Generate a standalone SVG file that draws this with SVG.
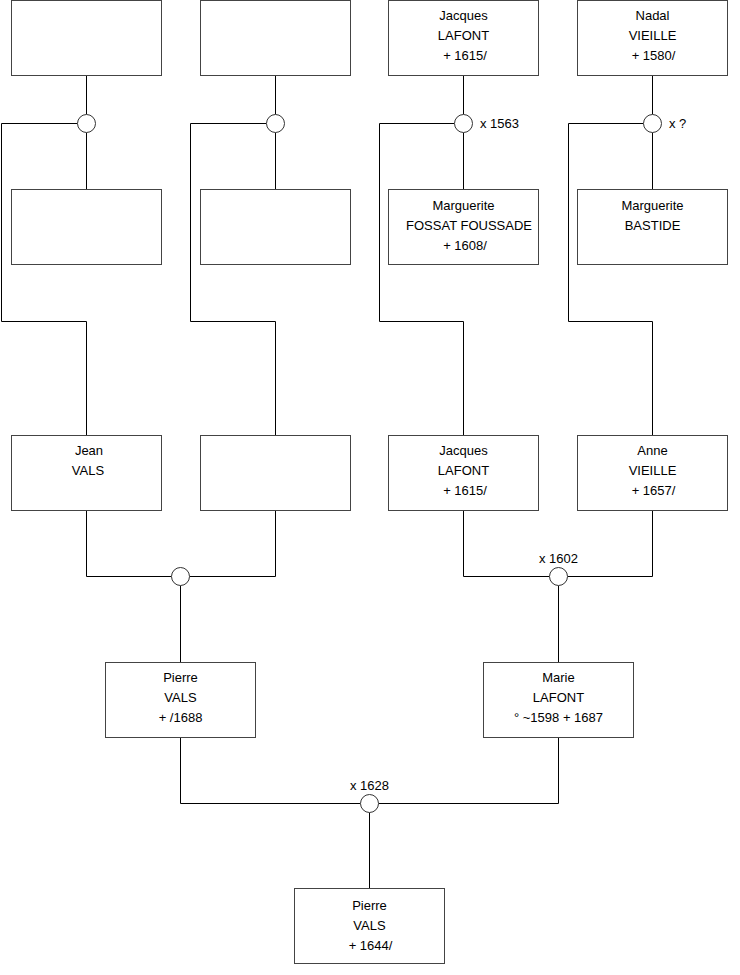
<svg xmlns="http://www.w3.org/2000/svg" width="740" height="975" viewBox="0 0 740 975">
<style>
.box{fill:#fff;stroke:#444;stroke-width:1}
.ln{fill:none;stroke:#000;stroke-width:1}
.un{fill:#fff;stroke:#333;stroke-width:1}
text{font-family:"Liberation Sans",Arial,sans-serif;font-size:13px;fill:#000}
.c{text-anchor:middle}
</style>
<rect width="740" height="975" fill="#fff"/>
<g id="connectors">
<path class="ln" d="M86.5 75.5V114.5M86.5 132.5V189.5M77.5 123.5H1.5V321.5H86.5V435.5"/>
<path class="ln" d="M275.5 75.5V114.5M275.5 132.5V189.5M266.5 123.5H190.5V321.5H275.5V435.5"/>
<path class="ln" d="M463.5 75.5V114.5M463.5 132.5V189.5M454.5 123.5H379.5V321.5H463.5V435.5"/>
<path class="ln" d="M652.5 75.5V114.5M652.5 132.5V189.5M643.5 123.5H568.5V321.5H652.5V435.5"/>
<path class="ln" d="M86.5 510.5V576.5H171.5M275.5 510.5V576.5H189.5M180.5 585.5V662.5"/>
<path class="ln" d="M463.5 510.5V576.5H549.5M652.5 510.5V576.5H567.5M558.5 585.5V662.5"/>
<path class="ln" d="M180.5 737.5V803.5H360.5M558.5 737.5V803.5H378.5M369.5 812.5V888.5"/>
</g>
<g id="union1"><circle class="un" cx="86.5" cy="123.5" r="9"/></g>
<g id="union2"><circle class="un" cx="275.5" cy="123.5" r="9"/></g>
<g id="union3"><circle class="un" cx="463.5" cy="123.5" r="9"/><text x="480" y="128">x 1563</text></g>
<g id="union4"><circle class="un" cx="652.5" cy="123.5" r="9"/><text x="669" y="128">x ?</text></g>
<g id="union5"><circle class="un" cx="180.5" cy="576.5" r="9"/></g>
<g id="union6"><circle class="un" cx="558.5" cy="576.5" r="9"/><text class="c" x="558.5" y="562.5">x 1602</text></g>
<g id="union7"><circle class="un" cx="369.5" cy="803.5" r="9"/><text class="c" x="369.5" y="789.5">x 1628</text></g>

<g id="p1"><rect class="box" x="11.5" y="0.5" width="150" height="75"/></g>
<g id="p2"><rect class="box" x="200.5" y="0.5" width="150" height="75"/></g>
<g id="p3"><rect class="box" x="388.5" y="0.5" width="150" height="75"/>
<text class="c" x="463.5" y="20">Jacques</text><text class="c" x="463.5" y="40">LAFONT</text><text class="c" x="465" y="60">+ 1615/</text></g>
<g id="p4"><rect class="box" x="577.5" y="0.5" width="150" height="75"/>
<text class="c" x="652.5" y="20">Nadal</text><text class="c" x="652.5" y="40">VIEILLE</text><text class="c" x="653.5" y="60">+ 1580/</text></g>

<g id="p5"><rect class="box" x="11.5" y="189.5" width="150" height="75"/></g>
<g id="p6"><rect class="box" x="200.5" y="189.5" width="150" height="75"/></g>
<g id="p7"><rect class="box" x="388.5" y="189.5" width="150" height="75"/>
<text class="c" x="463.5" y="210">Marguerite</text><text class="c" x="469" y="230">FOSSAT FOUSSADE</text><text class="c" x="465" y="250">+ 1608/</text></g>
<g id="p8"><rect class="box" x="577.5" y="189.5" width="150" height="75"/>
<text class="c" x="652.5" y="210">Marguerite</text><text class="c" x="652.5" y="230">BASTIDE</text></g>

<g id="p9"><rect class="box" x="11.5" y="435.5" width="150" height="75"/>
<text class="c" x="89" y="455">Jean</text><text class="c" x="88" y="475">VALS</text></g>
<g id="p10"><rect class="box" x="200.5" y="435.5" width="150" height="75"/></g>
<g id="p11"><rect class="box" x="388.5" y="435.5" width="150" height="75"/>
<text class="c" x="463.5" y="455">Jacques</text><text class="c" x="463.5" y="475">LAFONT</text><text class="c" x="465" y="495">+ 1615/</text></g>
<g id="p12"><rect class="box" x="577.5" y="435.5" width="150" height="75"/>
<text class="c" x="652.5" y="455">Anne</text><text class="c" x="652.5" y="475">VIEILLE</text><text class="c" x="653.5" y="495">+ 1657/</text></g>

<g id="p13"><rect class="box" x="105.5" y="662.5" width="150" height="75"/>
<text class="c" x="180.5" y="682">Pierre</text><text class="c" x="180.5" y="702">VALS</text><text class="c" x="180.5" y="722">+ /1688</text></g>
<g id="p14"><rect class="box" x="483.5" y="662.5" width="150" height="75"/>
<text class="c" x="558.5" y="682">Marie</text><text class="c" x="558.5" y="702">LAFONT</text><text class="c" x="558.5" y="722">° ~1598 + 1687</text></g>

<g id="p15"><rect class="box" x="294.5" y="888.5" width="150" height="75"/>
<text class="c" x="369.5" y="910">Pierre</text><text class="c" x="369.5" y="930">VALS</text><text class="c" x="370.5" y="950">+ 1644/</text></g>
</svg>
